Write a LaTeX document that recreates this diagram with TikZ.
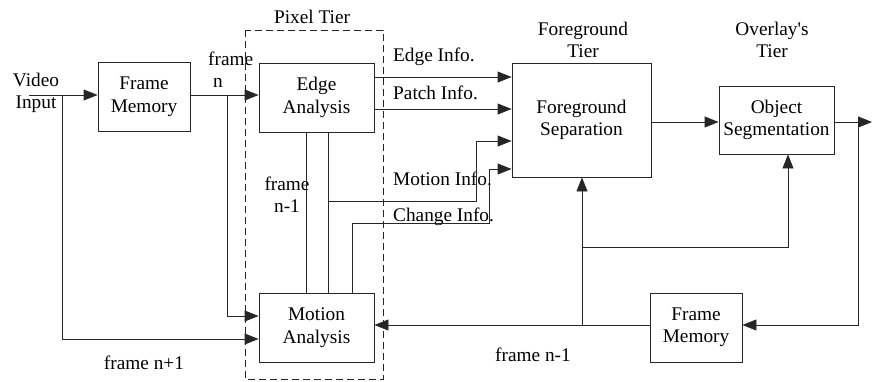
\documentclass[tikz,border=0pt]{standalone}
\usepackage{fontspec}
\setmainfont{Liberation Serif}
\usetikzlibrary{arrows.meta}
\begin{document}
\begin{tikzpicture}[x=1pt,y=-1pt,
  font=\fontsize{19.3}{22.5}\selectfont,
  line/.style={draw=black!85, line width=0.9pt},
  arr/.style={line, -{Triangle[length=14pt,width=11pt]}},
  blk/.style={line, rectangle, inner sep=0pt, align=center},
  lbl/.style={inner sep=0pt, align=center},
  lbll/.style={inner sep=0pt, anchor=west}
]
\useasboundingbox (0,0) rectangle (872,381);
% dashed tier box
\draw[line, dash pattern=on 7pt off 4pt] (245,30) rectangle (383,379);
% blocks
\node[blk, minimum width=92pt, minimum height=69pt] (FM1) at (144,97) {Frame\\Memory};
\node[blk, minimum width=115pt, minimum height=69pt] (EA) at (316.5,97.5) {Edge\\Analysis};
\node[blk, minimum width=115pt, minimum height=69pt] (MA) at (316.5,327.5) {Motion\\Analysis};
\node[blk, minimum width=139pt, minimum height=114pt] (FS) at (581.5,120) {Foreground\\Separation};
\node[blk, minimum width=115pt, minimum height=68pt] (OS) at (776.5,120) {Object\\Segmentation};
\node[blk, minimum width=92pt, minimum height=69pt] (FM2) at (696,327.5) {Frame\\Memory};
% labels
\node[lbl] (lvi) at (36,93) {Video\\Input};
\node[lbl] (lpt) at (312,17) {Pixel Tier};
\node[lbl] (lft) at (583,40) {Foreground\\Tier};
\node[lbl] (lot) at (772,40) {Overlay\textquotesingle s\\Tier};
\node[inner sep=0pt, align=left, anchor=west] (lfn) at (208,69.5) {frame\\\hspace*{5pt}n};
\node[lbl] (lfn1) at (287,194.5) {frame\\n-1};
\node[lbll] (lei) at (393,57) {Edge Info.};
\node[lbll] (lpi) at (393,93) {Patch Info.};
\node[lbll] (lmi) at (393,179) {Motion Info.};
\node[lbll] (lci) at (393,217) {Change Info.};
\node[lbl] (lnp) at (144,363) {frame n+1};
\node[lbl] (lnm) at (533,355) {frame n-1};
% coordinates
\coordinate (vi) at (29,95);
\coordinate (j1) at (62,95);
\coordinate (j2) at (227,95);
\coordinate (ei) at (374,77);
\coordinate (pi) at (374,109);
\coordinate (mi) at (328,201);
\coordinate (mi2) at (476,141);
\coordinate (ci1) at (352,223);
\coordinate (ci2) at (489,169);
\coordinate (fo) at (651,122);
\coordinate (out) at (872,122);
\coordinate (j3) at (858,122);
\coordinate (r) at (582,325);
\coordinate (j4) at (582,247);
% connectors
\draw[arr] (vi) -- (vi -| FM1.west);
\draw[arr] (FM1.east |- vi) -- (vi -| EA.west);
\draw[arr] (j1) |- ([yshift=-11.5pt]MA.west);
\draw[arr] (j2) |- ([yshift=11.5pt]MA.west);
\draw[line] ([xshift=-10.5pt]EA.south) -- ([xshift=-10.5pt]MA.north);
\draw[line] ([xshift=11.5pt]EA.south) -- ([xshift=11.5pt]MA.north);
\draw[arr] (mi) -| (mi2) -- (mi2 -| FS.west);
\draw[arr] ([xshift=35.5pt]MA.north) -- (ci1) -| (ci2) -- (ci2 -| FS.west);
\draw[arr] (ei) -- (ei -| FS.west);
\draw[arr] (pi) -- (pi -| FS.west);
\draw[arr] (fo) -- (fo -| OS.west);
\draw[arr] (OS.east |- out) -- (out);
\draw[arr] (j3) |- (FM2.east |- r);
\draw[arr] (FM2.west |- r) -- (r -| MA.east);
\draw[arr] (r) -- (r |- FS.south);
\draw[arr] (j4) -| ([xshift=11.5pt]OS.south);
\end{tikzpicture}
\end{document}
